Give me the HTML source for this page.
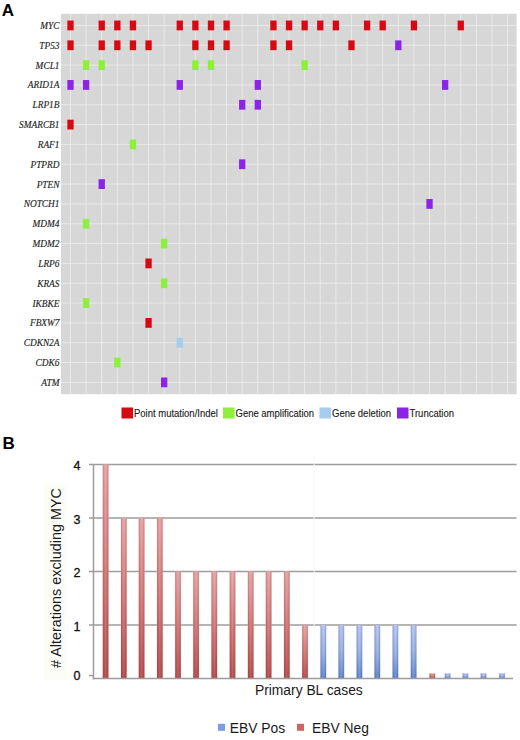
<!DOCTYPE html>
<html><head><meta charset="utf-8"><style>
html,body{margin:0;padding:0;background:#fff;}
body{width:520px;height:740px;overflow:hidden;position:relative;}
svg{position:absolute;left:0;top:0;display:block;}
.gl{stroke:#e9e9e9;stroke-width:1;}
.gene{font-family:"Liberation Serif",serif;font-style:italic;font-size:9.35px;fill:#222;stroke:#333;stroke-width:0.15px;text-anchor:end;}
.leg{font-family:"Liberation Sans",sans-serif;font-size:9.5px;fill:#222;stroke:#222;stroke-width:0.12px;}
.lab{font-family:"Liberation Sans",sans-serif;font-weight:bold;font-size:17px;fill:#000;}
.bg{stroke:#9c9c9c;stroke-width:1.5;}
.tick{font-family:"Liberation Sans",sans-serif;font-size:12.5px;fill:#111;stroke:#111;stroke-width:0.3px;text-anchor:end;}
.ax{font-family:"Liberation Sans",sans-serif;font-size:13.85px;fill:#1a1a1a;}
</style></head><body>
<svg width="520" height="740" viewBox="0 0 520 740">
<defs>
<linearGradient id="rv" x1="0" y1="0" x2="0" y2="1">
<stop offset="0" stop-color="#eaa6a6"/><stop offset="0.5" stop-color="#d67a7a"/><stop offset="1" stop-color="#b84e4e"/>
</linearGradient>
<linearGradient id="bv" x1="0" y1="0" x2="0" y2="1">
<stop offset="0" stop-color="#b4c8f8"/><stop offset="0.5" stop-color="#98b4ec"/><stop offset="1" stop-color="#6088d4"/>
</linearGradient>
<linearGradient id="shade" x1="0" y1="0" x2="1" y2="0">
<stop offset="0" stop-color="#503030" stop-opacity="0.28"/><stop offset="0.28" stop-color="#503030" stop-opacity="0.05"/><stop offset="0.5" stop-color="#fff" stop-opacity="0.08"/><stop offset="0.72" stop-color="#503030" stop-opacity="0.05"/><stop offset="1" stop-color="#503030" stop-opacity="0.28"/>
</linearGradient>
<linearGradient id="rhalo" x1="0" y1="0" x2="1" y2="0">
<stop offset="0" stop-color="#f4c8c8" stop-opacity="0"/><stop offset="0.2" stop-color="#f4c8c8" stop-opacity="0.6"/><stop offset="0.8" stop-color="#f4c8c8" stop-opacity="0.6"/><stop offset="1" stop-color="#f4c8c8" stop-opacity="0"/>
</linearGradient>
<linearGradient id="bhalo" x1="0" y1="0" x2="1" y2="0">
<stop offset="0" stop-color="#d0ddf6" stop-opacity="0"/><stop offset="0.2" stop-color="#d0ddf6" stop-opacity="0.6"/><stop offset="0.8" stop-color="#d0ddf6" stop-opacity="0.6"/><stop offset="1" stop-color="#d0ddf6" stop-opacity="0"/>
</linearGradient>
</defs>
<text x="1.8" y="15.8" class="lab">A</text>
<rect x="61" y="13.8" width="455.6" height="380.4" fill="#d7d7d7"/>
<line x1="70.50" y1="13.8" x2="70.50" y2="394.2" class="gl"/>
<line x1="86.11" y1="13.8" x2="86.11" y2="394.2" class="gl"/>
<line x1="101.72" y1="13.8" x2="101.72" y2="394.2" class="gl"/>
<line x1="117.33" y1="13.8" x2="117.33" y2="394.2" class="gl"/>
<line x1="132.94" y1="13.8" x2="132.94" y2="394.2" class="gl"/>
<line x1="148.55" y1="13.8" x2="148.55" y2="394.2" class="gl"/>
<line x1="164.16" y1="13.8" x2="164.16" y2="394.2" class="gl"/>
<line x1="179.77" y1="13.8" x2="179.77" y2="394.2" class="gl"/>
<line x1="195.38" y1="13.8" x2="195.38" y2="394.2" class="gl"/>
<line x1="210.99" y1="13.8" x2="210.99" y2="394.2" class="gl"/>
<line x1="226.60" y1="13.8" x2="226.60" y2="394.2" class="gl"/>
<line x1="242.21" y1="13.8" x2="242.21" y2="394.2" class="gl"/>
<line x1="257.82" y1="13.8" x2="257.82" y2="394.2" class="gl"/>
<line x1="273.43" y1="13.8" x2="273.43" y2="394.2" class="gl"/>
<line x1="289.04" y1="13.8" x2="289.04" y2="394.2" class="gl"/>
<line x1="304.65" y1="13.8" x2="304.65" y2="394.2" class="gl"/>
<line x1="320.26" y1="13.8" x2="320.26" y2="394.2" class="gl"/>
<line x1="335.87" y1="13.8" x2="335.87" y2="394.2" class="gl"/>
<line x1="351.48" y1="13.8" x2="351.48" y2="394.2" class="gl"/>
<line x1="367.09" y1="13.8" x2="367.09" y2="394.2" class="gl"/>
<line x1="382.70" y1="13.8" x2="382.70" y2="394.2" class="gl"/>
<line x1="398.31" y1="13.8" x2="398.31" y2="394.2" class="gl"/>
<line x1="413.92" y1="13.8" x2="413.92" y2="394.2" class="gl"/>
<line x1="429.53" y1="13.8" x2="429.53" y2="394.2" class="gl"/>
<line x1="445.14" y1="13.8" x2="445.14" y2="394.2" class="gl"/>
<line x1="460.75" y1="13.8" x2="460.75" y2="394.2" class="gl"/>
<line x1="476.36" y1="13.8" x2="476.36" y2="394.2" class="gl"/>
<line x1="491.97" y1="13.8" x2="491.97" y2="394.2" class="gl"/>
<line x1="507.58" y1="13.8" x2="507.58" y2="394.2" class="gl"/>
<line x1="61" y1="25.45" x2="516.6" y2="25.45" class="gl"/>
<line x1="61" y1="45.28" x2="516.6" y2="45.28" class="gl"/>
<line x1="61" y1="65.11" x2="516.6" y2="65.11" class="gl"/>
<line x1="61" y1="84.94" x2="516.6" y2="84.94" class="gl"/>
<line x1="61" y1="104.77" x2="516.6" y2="104.77" class="gl"/>
<line x1="61" y1="124.60" x2="516.6" y2="124.60" class="gl"/>
<line x1="61" y1="144.43" x2="516.6" y2="144.43" class="gl"/>
<line x1="61" y1="164.26" x2="516.6" y2="164.26" class="gl"/>
<line x1="61" y1="184.09" x2="516.6" y2="184.09" class="gl"/>
<line x1="61" y1="203.92" x2="516.6" y2="203.92" class="gl"/>
<line x1="61" y1="223.75" x2="516.6" y2="223.75" class="gl"/>
<line x1="61" y1="243.58" x2="516.6" y2="243.58" class="gl"/>
<line x1="61" y1="263.41" x2="516.6" y2="263.41" class="gl"/>
<line x1="61" y1="283.24" x2="516.6" y2="283.24" class="gl"/>
<line x1="61" y1="303.07" x2="516.6" y2="303.07" class="gl"/>
<line x1="61" y1="322.90" x2="516.6" y2="322.90" class="gl"/>
<line x1="61" y1="342.73" x2="516.6" y2="342.73" class="gl"/>
<line x1="61" y1="362.56" x2="516.6" y2="362.56" class="gl"/>
<line x1="61" y1="382.39" x2="516.6" y2="382.39" class="gl"/>
<rect x="67.35" y="20.55" width="6.3" height="9.8" fill="#d60a12"/>
<rect x="98.57" y="20.55" width="6.3" height="9.8" fill="#d60a12"/>
<rect x="114.18" y="20.55" width="6.3" height="9.8" fill="#d60a12"/>
<rect x="129.79" y="20.55" width="6.3" height="9.8" fill="#d60a12"/>
<rect x="176.62" y="20.55" width="6.3" height="9.8" fill="#d60a12"/>
<rect x="192.23" y="20.55" width="6.3" height="9.8" fill="#d60a12"/>
<rect x="207.84" y="20.55" width="6.3" height="9.8" fill="#d60a12"/>
<rect x="223.45" y="20.55" width="6.3" height="9.8" fill="#d60a12"/>
<rect x="270.28" y="20.55" width="6.3" height="9.8" fill="#d60a12"/>
<rect x="285.89" y="20.55" width="6.3" height="9.8" fill="#d60a12"/>
<rect x="301.50" y="20.55" width="6.3" height="9.8" fill="#d60a12"/>
<rect x="317.11" y="20.55" width="6.3" height="9.8" fill="#d60a12"/>
<rect x="332.72" y="20.55" width="6.3" height="9.8" fill="#d60a12"/>
<rect x="363.94" y="20.55" width="6.3" height="9.8" fill="#d60a12"/>
<rect x="379.55" y="20.55" width="6.3" height="9.8" fill="#d60a12"/>
<rect x="410.77" y="20.55" width="6.3" height="9.8" fill="#d60a12"/>
<rect x="457.60" y="20.55" width="6.3" height="9.8" fill="#d60a12"/>
<rect x="67.35" y="40.38" width="6.3" height="9.8" fill="#d60a12"/>
<rect x="98.57" y="40.38" width="6.3" height="9.8" fill="#d60a12"/>
<rect x="114.18" y="40.38" width="6.3" height="9.8" fill="#d60a12"/>
<rect x="129.79" y="40.38" width="6.3" height="9.8" fill="#d60a12"/>
<rect x="145.40" y="40.38" width="6.3" height="9.8" fill="#d60a12"/>
<rect x="192.23" y="40.38" width="6.3" height="9.8" fill="#d60a12"/>
<rect x="207.84" y="40.38" width="6.3" height="9.8" fill="#d60a12"/>
<rect x="223.45" y="40.38" width="6.3" height="9.8" fill="#d60a12"/>
<rect x="270.28" y="40.38" width="6.3" height="9.8" fill="#d60a12"/>
<rect x="285.89" y="40.38" width="6.3" height="9.8" fill="#d60a12"/>
<rect x="348.33" y="40.38" width="6.3" height="9.8" fill="#d60a12"/>
<rect x="395.16" y="40.38" width="6.3" height="9.8" fill="#8a24e6"/>
<rect x="82.96" y="60.21" width="6.3" height="9.8" fill="#8cf03c"/>
<rect x="98.57" y="60.21" width="6.3" height="9.8" fill="#8cf03c"/>
<rect x="192.23" y="60.21" width="6.3" height="9.8" fill="#8cf03c"/>
<rect x="207.84" y="60.21" width="6.3" height="9.8" fill="#8cf03c"/>
<rect x="301.50" y="60.21" width="6.3" height="9.8" fill="#8cf03c"/>
<rect x="67.35" y="80.04" width="6.3" height="9.8" fill="#8a24e6"/>
<rect x="82.96" y="80.04" width="6.3" height="9.8" fill="#8a24e6"/>
<rect x="176.62" y="80.04" width="6.3" height="9.8" fill="#8a24e6"/>
<rect x="254.67" y="80.04" width="6.3" height="9.8" fill="#8a24e6"/>
<rect x="441.99" y="80.04" width="6.3" height="9.8" fill="#8a24e6"/>
<rect x="239.06" y="99.87" width="6.3" height="9.8" fill="#8a24e6"/>
<rect x="254.67" y="99.87" width="6.3" height="9.8" fill="#8a24e6"/>
<rect x="67.35" y="119.70" width="6.3" height="9.8" fill="#d60a12"/>
<rect x="129.79" y="139.53" width="6.3" height="9.8" fill="#8cf03c"/>
<rect x="239.06" y="159.36" width="6.3" height="9.8" fill="#8a24e6"/>
<rect x="98.57" y="179.19" width="6.3" height="9.8" fill="#8a24e6"/>
<rect x="426.38" y="199.02" width="6.3" height="9.8" fill="#8a24e6"/>
<rect x="82.96" y="218.85" width="6.3" height="9.8" fill="#8cf03c"/>
<rect x="161.01" y="238.68" width="6.3" height="9.8" fill="#8cf03c"/>
<rect x="145.40" y="258.51" width="6.3" height="9.8" fill="#d60a12"/>
<rect x="161.01" y="278.34" width="6.3" height="9.8" fill="#8cf03c"/>
<rect x="82.96" y="298.17" width="6.3" height="9.8" fill="#8cf03c"/>
<rect x="145.40" y="318.00" width="6.3" height="9.8" fill="#d60a12"/>
<rect x="176.62" y="337.83" width="6.3" height="9.8" fill="#a6ccee"/>
<rect x="114.18" y="357.66" width="6.3" height="9.8" fill="#8cf03c"/>
<rect x="161.01" y="377.49" width="6.3" height="9.8" fill="#8a24e6"/>
<text x="59.5" y="29.00" class="gene">MYC</text>
<text x="59.5" y="48.83" class="gene">TP53</text>
<text x="59.5" y="68.66" class="gene">MCL1</text>
<text x="59.5" y="88.49" class="gene">ARID1A</text>
<text x="59.5" y="108.32" class="gene">LRP1B</text>
<text x="59.5" y="128.15" class="gene">SMARCB1</text>
<text x="59.5" y="147.98" class="gene">RAF1</text>
<text x="59.5" y="167.81" class="gene">PTPRD</text>
<text x="59.5" y="187.64" class="gene">PTEN</text>
<text x="59.5" y="207.47" class="gene">NOTCH1</text>
<text x="59.5" y="227.30" class="gene">MDM4</text>
<text x="59.5" y="247.13" class="gene">MDM2</text>
<text x="59.5" y="266.96" class="gene">LRP6</text>
<text x="59.5" y="286.79" class="gene">KRAS</text>
<text x="59.5" y="306.62" class="gene">IKBKE</text>
<text x="59.5" y="326.45" class="gene">FBXW7</text>
<text x="59.5" y="346.28" class="gene">CDKN2A</text>
<text x="59.5" y="366.11" class="gene">CDK6</text>
<text x="59.5" y="385.94" class="gene">ATM</text>

<rect x="121.5" y="407.5" width="11.5" height="11" fill="#d60a12"/>
<text transform="translate(134,417.4) scale(1,1.09)" class="leg">Point mutation/Indel</text>
<rect x="223" y="407.5" width="11.5" height="11" fill="#8cf03c"/>
<text transform="translate(235.5,417.4) scale(1,1.09)" class="leg">Gene amplification</text>
<rect x="319.5" y="407.5" width="11.5" height="11" fill="#a6ccee"/>
<text transform="translate(332,417.4) scale(1,1.09)" class="leg">Gene deletion</text>
<rect x="397" y="407.5" width="11.5" height="11" fill="#8a24e6"/>
<text transform="translate(409.5,417.4) scale(1,1.09)" class="leg">Truncation</text>

<rect x="44" y="483" width="22" height="197" fill="#fdfdf8"/>
<text x="2.5" y="449.3" class="lab">B</text>
<line x1="89" y1="625.10" x2="516.5" y2="625.10" class="bg"/>
<text x="80.5" y="630.70" class="tick">1</text>
<line x1="89" y1="571.60" x2="516.5" y2="571.60" class="bg"/>
<text x="80.5" y="577.20" class="tick">2</text>
<line x1="89" y1="518.10" x2="516.5" y2="518.10" class="bg"/>
<text x="80.5" y="523.70" class="tick">3</text>
<line x1="89" y1="464.60" x2="516.5" y2="464.60" class="bg"/>
<text x="80.5" y="470.20" class="tick">4</text>
<line x1="89" y1="675.60" x2="93.5" y2="675.60" class="bg"/>
<text x="80.5" y="680.00" class="tick">0</text>
<rect x="101.60" y="464.60" width="8.0" height="214.00" fill="url(#rhalo)"/>
<rect x="102.80" y="464.60" width="5.6" height="214.00" fill="url(#rv)"/>
<rect x="102.80" y="464.60" width="5.6" height="214.00" fill="url(#shade)"/>
<rect x="119.80" y="518.10" width="8.0" height="160.50" fill="url(#rhalo)"/>
<rect x="121.00" y="518.10" width="5.6" height="160.50" fill="url(#rv)"/>
<rect x="121.00" y="518.10" width="5.6" height="160.50" fill="url(#shade)"/>
<rect x="137.60" y="518.10" width="8.0" height="160.50" fill="url(#rhalo)"/>
<rect x="138.80" y="518.10" width="5.6" height="160.50" fill="url(#rv)"/>
<rect x="138.80" y="518.10" width="5.6" height="160.50" fill="url(#shade)"/>
<rect x="155.80" y="518.10" width="8.0" height="160.50" fill="url(#rhalo)"/>
<rect x="157.00" y="518.10" width="5.6" height="160.50" fill="url(#rv)"/>
<rect x="157.00" y="518.10" width="5.6" height="160.50" fill="url(#shade)"/>
<rect x="174.00" y="571.60" width="8.0" height="107.00" fill="url(#rhalo)"/>
<rect x="175.20" y="571.60" width="5.6" height="107.00" fill="url(#rv)"/>
<rect x="175.20" y="571.60" width="5.6" height="107.00" fill="url(#shade)"/>
<rect x="192.10" y="571.60" width="8.0" height="107.00" fill="url(#rhalo)"/>
<rect x="193.30" y="571.60" width="5.6" height="107.00" fill="url(#rv)"/>
<rect x="193.30" y="571.60" width="5.6" height="107.00" fill="url(#shade)"/>
<rect x="210.30" y="571.60" width="8.0" height="107.00" fill="url(#rhalo)"/>
<rect x="211.50" y="571.60" width="5.6" height="107.00" fill="url(#rv)"/>
<rect x="211.50" y="571.60" width="5.6" height="107.00" fill="url(#shade)"/>
<rect x="228.50" y="571.60" width="8.0" height="107.00" fill="url(#rhalo)"/>
<rect x="229.70" y="571.60" width="5.6" height="107.00" fill="url(#rv)"/>
<rect x="229.70" y="571.60" width="5.6" height="107.00" fill="url(#shade)"/>
<rect x="246.70" y="571.60" width="8.0" height="107.00" fill="url(#rhalo)"/>
<rect x="247.90" y="571.60" width="5.6" height="107.00" fill="url(#rv)"/>
<rect x="247.90" y="571.60" width="5.6" height="107.00" fill="url(#shade)"/>
<rect x="264.60" y="571.60" width="8.0" height="107.00" fill="url(#rhalo)"/>
<rect x="265.80" y="571.60" width="5.6" height="107.00" fill="url(#rv)"/>
<rect x="265.80" y="571.60" width="5.6" height="107.00" fill="url(#shade)"/>
<rect x="282.80" y="571.60" width="8.0" height="107.00" fill="url(#rhalo)"/>
<rect x="284.00" y="571.60" width="5.6" height="107.00" fill="url(#rv)"/>
<rect x="284.00" y="571.60" width="5.6" height="107.00" fill="url(#shade)"/>
<rect x="301.00" y="625.10" width="8.0" height="53.50" fill="url(#rhalo)"/>
<rect x="302.20" y="625.10" width="5.6" height="53.50" fill="url(#rv)"/>
<rect x="302.20" y="625.10" width="5.6" height="53.50" fill="url(#shade)"/>
<rect x="319.30" y="625.10" width="8.0" height="53.50" fill="url(#bhalo)"/>
<rect x="320.50" y="625.10" width="5.6" height="53.50" fill="url(#bv)"/>
<rect x="320.50" y="625.10" width="5.6" height="53.50" fill="url(#shade)"/>
<rect x="337.30" y="625.10" width="8.0" height="53.50" fill="url(#bhalo)"/>
<rect x="338.50" y="625.10" width="5.6" height="53.50" fill="url(#bv)"/>
<rect x="338.50" y="625.10" width="5.6" height="53.50" fill="url(#shade)"/>
<rect x="355.40" y="625.10" width="8.0" height="53.50" fill="url(#bhalo)"/>
<rect x="356.60" y="625.10" width="5.6" height="53.50" fill="url(#bv)"/>
<rect x="356.60" y="625.10" width="5.6" height="53.50" fill="url(#shade)"/>
<rect x="373.30" y="625.10" width="8.0" height="53.50" fill="url(#bhalo)"/>
<rect x="374.50" y="625.10" width="5.6" height="53.50" fill="url(#bv)"/>
<rect x="374.50" y="625.10" width="5.6" height="53.50" fill="url(#shade)"/>
<rect x="391.40" y="625.10" width="8.0" height="53.50" fill="url(#bhalo)"/>
<rect x="392.60" y="625.10" width="5.6" height="53.50" fill="url(#bv)"/>
<rect x="392.60" y="625.10" width="5.6" height="53.50" fill="url(#shade)"/>
<rect x="409.60" y="625.10" width="8.0" height="53.50" fill="url(#bhalo)"/>
<rect x="410.80" y="625.10" width="5.6" height="53.50" fill="url(#bv)"/>
<rect x="410.80" y="625.10" width="5.6" height="53.50" fill="url(#shade)"/>
<rect x="428.30" y="673.30" width="8.0" height="5.30" fill="url(#rhalo)"/>
<rect x="429.50" y="673.30" width="5.6" height="5.30" fill="url(#rv)"/>
<rect x="429.50" y="673.30" width="5.6" height="5.30" fill="url(#shade)"/>
<rect x="443.60" y="673.30" width="8.0" height="5.30" fill="url(#bhalo)"/>
<rect x="444.80" y="673.30" width="5.6" height="5.30" fill="url(#bv)"/>
<rect x="444.80" y="673.30" width="5.6" height="5.30" fill="url(#shade)"/>
<rect x="461.40" y="673.30" width="8.0" height="5.30" fill="url(#bhalo)"/>
<rect x="462.60" y="673.30" width="5.6" height="5.30" fill="url(#bv)"/>
<rect x="462.60" y="673.30" width="5.6" height="5.30" fill="url(#shade)"/>
<rect x="479.50" y="673.30" width="8.0" height="5.30" fill="url(#bhalo)"/>
<rect x="480.70" y="673.30" width="5.6" height="5.30" fill="url(#bv)"/>
<rect x="480.70" y="673.30" width="5.6" height="5.30" fill="url(#shade)"/>
<rect x="498.00" y="673.30" width="8.0" height="5.30" fill="url(#bhalo)"/>
<rect x="499.20" y="673.30" width="5.6" height="5.30" fill="url(#bv)"/>
<rect x="499.20" y="673.30" width="5.6" height="5.30" fill="url(#shade)"/>
<line x1="314.2" y1="455" x2="314.2" y2="680" stroke="#f6f6f6" stroke-width="1"/>
<line x1="93.5" y1="464" x2="93.5" y2="679.35" class="bg"/>
<line x1="92.75" y1="678.6" x2="513" y2="678.6" class="bg"/>
<text transform="translate(60.6,668) rotate(-90)" class="ax" style="font-size:14.4px">#  Alterations excluding MYC</text>
<text transform="translate(254.9,695.4) scale(1,1.09)" class="ax">Primary BL cases</text>
<rect x="218" y="723.8" width="7" height="7" fill="#7c9ce0"/>
<text transform="translate(229.8,733.4) scale(1,1.09)" class="ax">EBV Pos</text>
<rect x="297" y="723.8" width="7" height="7" fill="#d06464"/>
<text transform="translate(312.1,733.4) scale(1,1.09)" class="ax">EBV Neg</text>
</svg>
</body></html>
